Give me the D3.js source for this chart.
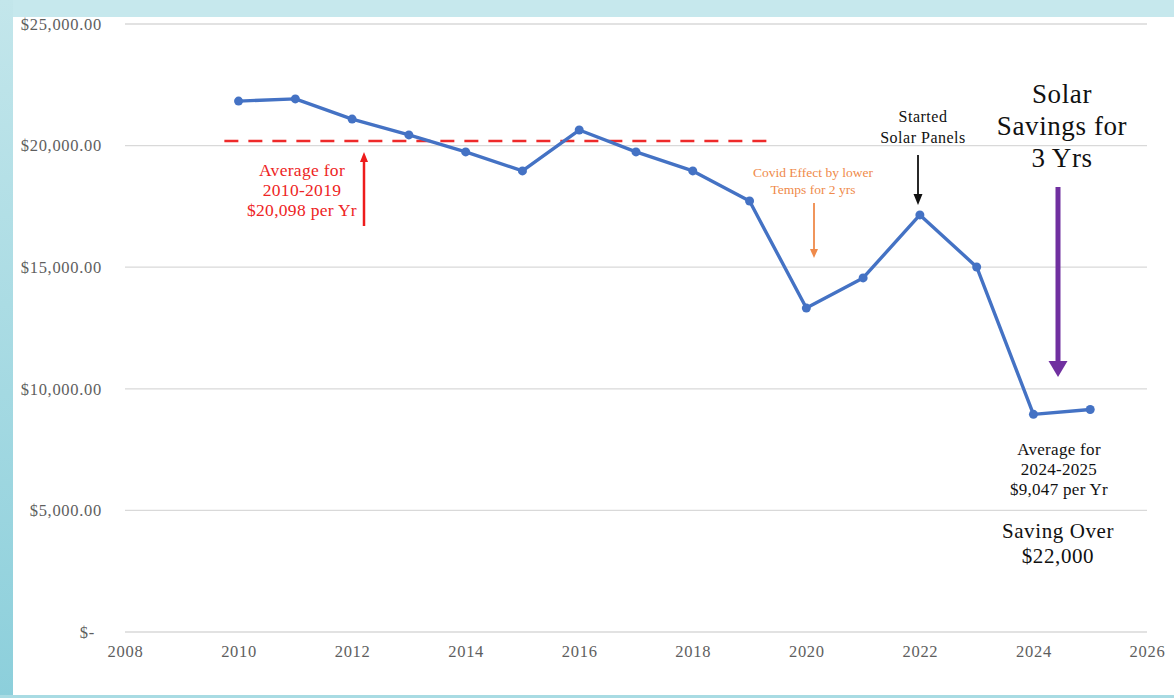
<!DOCTYPE html>
<html>
<head>
<meta charset="utf-8">
<script src="https://cdn.jsdelivr.net/npm/d3@7/dist/d3.min.js"></script>
<style>
  html, body { margin: 0; padding: 0; background: #ffffff; }
  svg { display: block; }
</style>
</head>
<body>
<svg id="chart" width="1174" height="698"></svg>
<script>
// ---- data ----
const years = [2010, 2011, 2012, 2013, 2014, 2015, 2016, 2017, 2018, 2019, 2020, 2021, 2022, 2023, 2024, 2025];
const costs = [21830, 21920, 21090, 20440, 19740, 18960, 20640, 19740, 18960, 17720, 13320, 14560, 17150, 15010, 8950, 9150];
const yTicks = [0, 5000, 10000, 15000, 20000, 25000];
const yTickLabels = ["$-", "$5,000.00", "$10,000.00", "$15,000.00", "$20,000.00", "$25,000.00"];
const xTicks = [2008, 2010, 2012, 2014, 2016, 2018, 2020, 2022, 2024, 2026];
const avgLine = { from: 2009.75, to: 2019.3, value: 20190 };

const svg = d3.select("#chart");
const W = 1174, H = 698;
const serif = "'Liberation Serif', 'Times New Roman', serif";

// frame
const defs = svg.append("defs");
const grad = defs.append("linearGradient").attr("id", "lg").attr("x1", 0).attr("y1", 0).attr("x2", 0).attr("y2", 1);
grad.append("stop").attr("offset", "0%").attr("stop-color", "#c3e6eb");
grad.append("stop").attr("offset", "100%").attr("stop-color", "#8ccfdb");
svg.append("rect").attr("x", 0).attr("y", 0).attr("width", W).attr("height", 17).attr("fill", "#c6e8ed");
svg.append("rect").attr("x", 0).attr("y", 0).attr("width", 13).attr("height", H).attr("fill", "url(#lg)");
svg.append("rect").attr("x", 0).attr("y", 695).attr("width", W).attr("height", 3).attr("fill", "#a8dbe3");

const x = d3.scaleLinear().domain([2008, 2026]).range([125, 1147]);
const y = d3.scaleLinear().domain([0, 25000]).range([632, 24]);

// gridlines
svg.append("g").selectAll("line").data(yTicks).join("line")
  .attr("x1", x(2008)).attr("x2", x(2026))
  .attr("y1", d => y(d)).attr("y2", d => y(d))
  .attr("stroke", "#d9d9d9").attr("stroke-width", 1.3);

// y axis labels
const yAxis = d3.axisLeft(y).tickValues(yTicks).tickSize(0).tickPadding(0)
  .tickFormat((d, i) => yTickLabels[i]);
const gy = svg.append("g").attr("transform", "translate(102,0)").call(yAxis);
gy.select(".domain").remove();
gy.selectAll("text").attr("font-family", serif).attr("font-size", 16.5).attr("fill", "#5e5e5e")
  .attr("letter-spacing", 0.7)
  .attr("dx", d => d === 0 ? -7 : 0);

// x axis labels
const xAxis = d3.axisBottom(x).tickValues(xTicks).tickSize(0).tickPadding(0).tickFormat(d3.format("d"));
const gx = svg.append("g").attr("transform", "translate(0,645)").call(xAxis);
gx.select(".domain").remove();
gx.selectAll("text").attr("font-family", serif).attr("font-size", 16.5).attr("fill", "#5e5e5e")
  .attr("letter-spacing", 0.7)
  .attr("dy", "0.72em");

// average dashed line
svg.append("line")
  .attr("x1", x(avgLine.from)).attr("x2", x(avgLine.to))
  .attr("y1", y(avgLine.value)).attr("y2", y(avgLine.value))
  .attr("stroke", "#ee2a2a").attr("stroke-width", 2.5).attr("stroke-dasharray", "14,10");

// data line
const pts = years.map((yr, i) => [yr, costs[i]]);
svg.append("path").datum(pts)
  .attr("d", d3.line().x(d => x(d[0])).y(d => y(d[1])))
  .attr("fill", "none").attr("stroke", "#4472c4").attr("stroke-width", 3.4)
  .attr("stroke-linejoin", "round");
svg.append("g").selectAll("circle").data(pts).join("circle")
  .attr("cx", d => x(d[0])).attr("cy", d => y(d[1])).attr("r", 4.5)
  .attr("fill", "#4472c4");

// arrows
function arrow(xp, y1, y2, color, w, hw, hl) {
  const dir = y2 > y1 ? 1 : -1;
  const base = y2 - dir * hl;
  svg.append("line").attr("x1", xp).attr("x2", xp).attr("y1", y1).attr("y2", base)
    .attr("stroke", color).attr("stroke-width", w);
  svg.append("path")
    .attr("d", `M${xp - hw / 2},${base} L${xp + hw / 2},${base} L${xp},${y2} Z`)
    .attr("fill", color);
}
arrow(364, 226, 152, "#ee1c1c", 2.5, 8, 10);
arrow(814, 203, 258, "#ef8a4a", 1.8, 8, 9);
arrow(918, 155, 205, "#111111", 1.8, 9, 11);
arrow(1058, 187, 377, "#7030a0", 5, 19, 16);

// text annotations
function label(lines, cx, y0, lh, size, color, ls) {
  const t = svg.append("text").attr("font-family", serif).attr("font-size", size)
    .attr("fill", color).attr("text-anchor", "middle").attr("letter-spacing", ls || 0);
  lines.forEach((s, i) => t.append("tspan").attr("x", cx).attr("y", y0 + i * lh).text(s));
}
label(["Average for", "2010-2019", "$20,098 per Yr"], 302, 176, 20, 17.5, "#ee2424", 0.3);
label(["Covid Effect by lower", "Temps for 2 yrs"], 813, 177, 17, 13.5, "#ef8a4a", 0);
label(["Started", "Solar Panels"], 923, 122, 21, 16, "#111111", 0.5);
label(["Solar", "Savings for", "3 Yrs"], 1062, 103, 32, 27, "#111111", 0.6);
label(["Average for", "2024-2025", "$9,047 per Yr"], 1059, 455, 20, 17, "#111111", 0.3);
label(["Saving Over", "$22,000"], 1058, 538, 25, 21, "#111111", 0.6);
</script>
</body>
</html>
